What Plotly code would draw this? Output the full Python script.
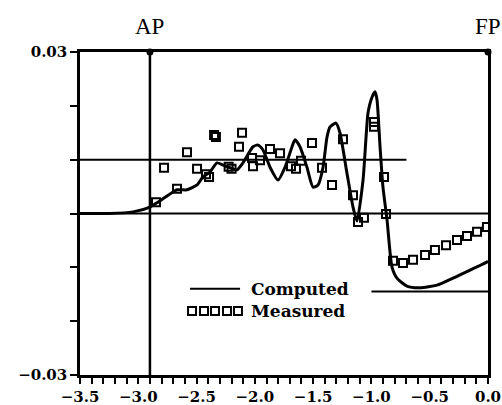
import plotly.graph_objects as go

# Computed curve (x = station, y = value)
comp_x = [-3.5, -3.25, -3.045, -2.90, -2.84, -2.75, -2.668, -2.582, -2.496, -2.445, -2.385,
          -2.325, -2.273, -2.213, -2.153, -2.102, -2.016, -1.973, -1.930, -1.870, -1.801,
          -1.741, -1.681, -1.656, -1.613, -1.553, -1.501, -1.458, -1.415, -1.381, -1.355,
          -1.304, -1.270, -1.210, -1.158, -1.124, -1.072, -1.029, -0.995, -0.969, -0.952,
          -0.926, -0.901, -0.866, -0.824, -0.781, -0.695, -0.583, -0.437, -0.300, -0.154,
          -0.009, 0.0]
comp_y = [0.0, 0.0, 0.0003, 0.0012, 0.0020, 0.0033, 0.0044, 0.0044, 0.0053, 0.0068, 0.0077,
          0.0094, 0.0090, 0.0085, 0.0081, 0.0094, 0.0124, 0.0127, 0.0118, 0.0086, 0.0062,
          0.0086, 0.0124, 0.0137, 0.0124, 0.0086, 0.0049, 0.0053, 0.0086, 0.0142, 0.0161,
          0.0168, 0.0150, 0.0075, 0.0012, -0.0014, 0.0062, 0.0187, 0.0216, 0.0226, 0.0211,
          0.0124, 0.0049, -0.0012, -0.0099, -0.0120, -0.0135, -0.0138, -0.0133, -0.0120,
          -0.0105, -0.0090, -0.0088]

# Measured points
meas_x = [-2.848, -2.779, -2.668, -2.582, -2.496, -2.419, -2.393, -2.350, -2.334, -2.225,
          -2.200, -2.136, -2.110, -2.024, -2.016, -1.956, -1.870, -1.784, -1.690, -1.647,
          -1.604, -1.510, -1.424, -1.338, -1.244, -1.158, -1.115, -1.064, -0.978, -0.978,
          -0.892, -0.875, -0.815, -0.729, -0.643, -0.540, -0.455, -0.360, -0.266, -0.180,
          -0.094, -0.009]
meas_y = [0.0021, 0.0085, 0.0046, 0.0114, 0.0083, 0.0073, 0.0068, 0.0146, 0.0142, 0.0087,
          0.0083, 0.0124, 0.0150, 0.0103, 0.0088, 0.0099, 0.0120, 0.0112, 0.0088, 0.0083,
          0.0098, 0.0131, 0.0085, 0.0053, 0.0138, 0.0034, -0.0016, -0.0008, 0.0170, 0.0161,
          0.0068, -0.0001, -0.0088, -0.0092, -0.0086, -0.0077, -0.0068, -0.0059, -0.0049,
          -0.0042, -0.0034, -0.0025]

x_ticks = [-3.5, -3.0, -2.5, -2.0, -1.5, -1.0, -0.5, 0.0]
x_ticktext = ["\u22123.5", "\u22123.0", "\u22122.5", "\u22122.0", "\u22121.5", "\u22121.0", "\u22120.5", "0.0"]
y_ticks = [-0.03, -0.02, -0.01, 0.0, 0.01, 0.02, 0.03]
y_ticktext = ["\u22120.03", "", "", "", "", "", "0.03"]

stations = ["AP", "FP"]
station_x = [-2.9, 0.0]

# Horizontal reference lines: (level, x start, x end)
ref_level = [0.0, 0.01, -0.0145]
ref_x0 = [-3.5, -3.5, -1.0]
ref_x1 = [0.0, -0.7, 0.0]

legend_labels = ["Computed", "Measured"]

fig = go.Figure()

fig.add_trace(go.Scatter(x=comp_x, y=comp_y, mode="lines",
                         line=dict(color="black", width=3, shape="spline", smoothing=0.6),
                         showlegend=False))
fig.add_trace(go.Scatter(x=meas_x, y=meas_y, mode="markers",
                         marker=dict(symbol="square-open", size=8, color="black",
                                     line=dict(width=2, color="black")),
                         showlegend=False))

shapes = []
for lv, a, b in zip(ref_level, ref_x0, ref_x1):
    shapes.append(dict(type="line", xref="x", yref="y", x0=a, x1=b, y0=lv, y1=lv,
                       line=dict(color="black", width=2)))
shapes.append(dict(type="line", xref="x", yref="y", x0=station_x[0], x1=station_x[0],
                   y0=-0.03, y1=0.03, line=dict(color="black", width=2.5)))

# station dots
fig.add_trace(go.Scatter(x=station_x, y=[0.03, 0.03], mode="markers",
                         marker=dict(color="black", size=7), cliponaxis=False,
                         showlegend=False))

annotations = []
for s, sx in zip(stations, station_x):
    annotations.append(dict(x=sx, y=1.0, xref="x", yref="paper", yshift=26, text=s,
                            showarrow=False, xanchor="center", yanchor="middle",
                            font=dict(family="Liberation Serif", size=23, color="black")))

# manual legend
leg_line_x = [-2.556, -2.127]
leg_y = [-0.0140, -0.0181]
leg_sq_x = [-2.539, -2.436, -2.342, -2.239, -2.145]
shapes.append(dict(type="line", xref="x", yref="y", x0=leg_line_x[0], x1=leg_line_x[1],
                   y0=leg_y[0], y1=leg_y[0], line=dict(color="black", width=2)))
fig.add_trace(go.Scatter(x=leg_sq_x, y=[leg_y[1]] * len(leg_sq_x), mode="markers",
                         marker=dict(symbol="square-open", size=8, color="black",
                                     line=dict(width=2, color="black")),
                         showlegend=False))
for lab, ly in zip(legend_labels, leg_y):
    annotations.append(dict(x=-2.05, y=ly, xref="x", yref="y", text=lab, showarrow=False,
                            xanchor="left", yanchor="middle",
                            font=dict(family="DejaVu Serif", size=17, color="black", weight="bold")))

fig.update_layout(
    width=502, height=405,
    margin=dict(l=80, r=14, t=52, b=30),
    plot_bgcolor="white", paper_bgcolor="white",
    shapes=shapes, annotations=annotations,
    xaxis=dict(range=[-3.5, 0.0], tickvals=x_ticks, ticktext=x_ticktext, automargin=False,
               ticks="outside", ticklen=6, tickwidth=2, tickcolor="black",
               minor=dict(dtick=0.1, tick0=0, ticks="outside", ticklen=6, tickwidth=2, tickcolor="black"),
               showline=True, linewidth=2.5, linecolor="black", mirror=True,
               showgrid=False, zeroline=False,
               tickfont=dict(family="DejaVu Serif", size=15, color="black", weight="bold")),
    yaxis=dict(range=[-0.03, 0.03], tickvals=y_ticks, ticktext=y_ticktext, automargin=False,
               ticks="outside", ticklen=7, tickwidth=2, tickcolor="black",
               showline=True, linewidth=2.5, linecolor="black", mirror=True,
               showgrid=False, zeroline=False,
               tickfont=dict(family="DejaVu Serif", size=15, color="black", weight="bold")),
)

fig.write_html("out.html", config={"displayModeBar": False},
               post_script="document.body.style.margin='0';document.body.style.overflow='hidden';")
